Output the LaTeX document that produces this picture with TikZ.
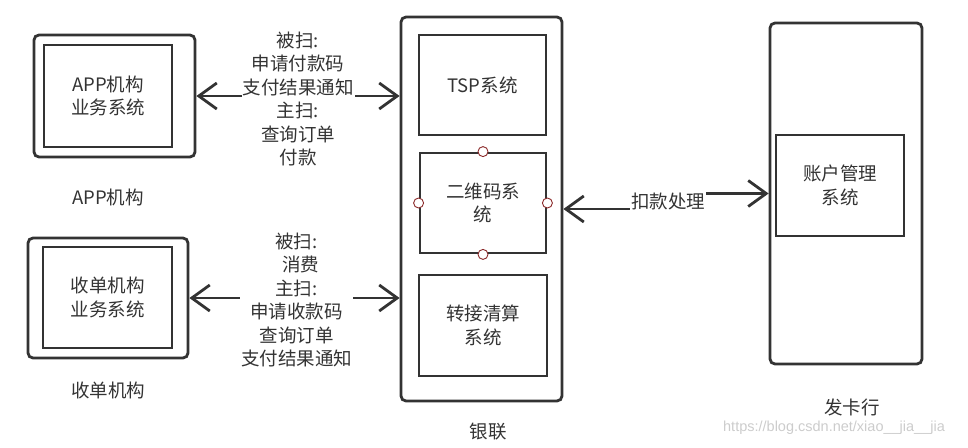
\documentclass[tikz,border=0pt]{standalone}
\usepackage{fontspec}
\setmainfont{Noto Sans CJK SC}
\newfontfamily\markfont{Liberation Sans}
\usepackage{tikz}
\usetikzlibrary{arrows.meta, positioning}
\definecolor{linegray}{HTML}{333333}
\definecolor{portred}{HTML}{8B2A2A}

\begin{document}
\begin{tikzpicture}[
x=1pt, y=-1pt,
font=\fontsize{18.5}{23.5}\selectfont,
text=linegray,
outerbox/.style={rectangle, draw=linegray, line width=2.8pt, rounded corners=5pt, inner sep=0pt},
sysbox/.style={rectangle, draw=linegray, line width=2.8pt, align=center, inner sep=0pt},
caption/.style={align=center},
port/.style={circle, draw=portred, fill=white, line width=0.9pt, minimum size=10pt, inner sep=0pt},
arrow/.style={{Straight Barb[length=18pt,width=26pt]}-{Straight Barb[length=18pt,width=26pt]}, draw=linegray, line width=2.8pt},
msg/.style={fill=white, align=center, inner sep=1pt}
]
\useasboundingbox (0,0) rectangle (968,447);

% outer frames
\node[outerbox, minimum width=161pt, minimum height=122pt] (appbox) at (114.5,96) {};
\node[outerbox, minimum width=160pt, minimum height=120pt] (acqbox) at (108,298) {};
\node[outerbox, minimum width=161pt, minimum height=384pt] (unionbox) at (481.5,209) {};
\node[outerbox, minimum width=152pt, minimum height=341pt] (issuerbox) at (846,193.5) {};

% systems
\node[sysbox, minimum width=128pt, minimum height=102pt] (appsys) at (108,96) {APP机构\\业务系统};
\node[sysbox, minimum width=129pt, minimum height=101pt] (acqsys) at (107.5,297.5) {收单机构\\业务系统};
\node[sysbox, minimum width=127pt, minimum height=100pt] (tspsys) at (482.5,85) {TSP系统};
\node[sysbox, minimum width=126pt, minimum height=100pt] (qrsys) at (483,203) {二维码系\\统};
\node[sysbox, minimum width=128pt, minimum height=101pt] (transys) at (483,325.5) {转接清算\\系统};
\node[sysbox, minimum width=128pt, minimum height=101pt] (acctsys) at (840,185.5) {账户管理\\系统};

% captions
\node[caption] (appname) at (108,197) {APP机构};
\node[caption] (acqname) at (108,390) {收单机构};
\node[caption] (unionname) at (488,432) {银联};
\node[caption] (issuername) at (852,407) {发卡行};

% connectors
\draw[arrow] (appbox.east) -- (appbox.east -| unionbox.west)
  node[msg, midway, yshift=-3pt] {被扫:\\申请付款码\\支付结果通知\\主扫:\\查询订单\\付款};
\draw[arrow] (acqbox.east) -- (acqbox.east -| unionbox.west)
  node[msg, midway, xshift=2pt, yshift=-2pt] {被扫:\\\ \ 消费\\主扫:\\申请收款码\\查询订单\\支付结果通知};
\draw[arrow] ([yshift=-6pt]qrsys.east -| unionbox.east) -- ++(105,0)
  |- node[msg, pos=0.25] {扣款处理} (issuerbox.west);

% ports on the qr code box
\foreach \side in {north,south,east,west}
  \node[port] (qr\side) at (qrsys.\side) {};

\node[text=black!20, font=\markfont\fontsize{14.5}{16}\selectfont] (mark) at (834,428) {https://blog.csdn.net/xiao\_\_jia\_\_jia};

\end{tikzpicture}
\end{document}
